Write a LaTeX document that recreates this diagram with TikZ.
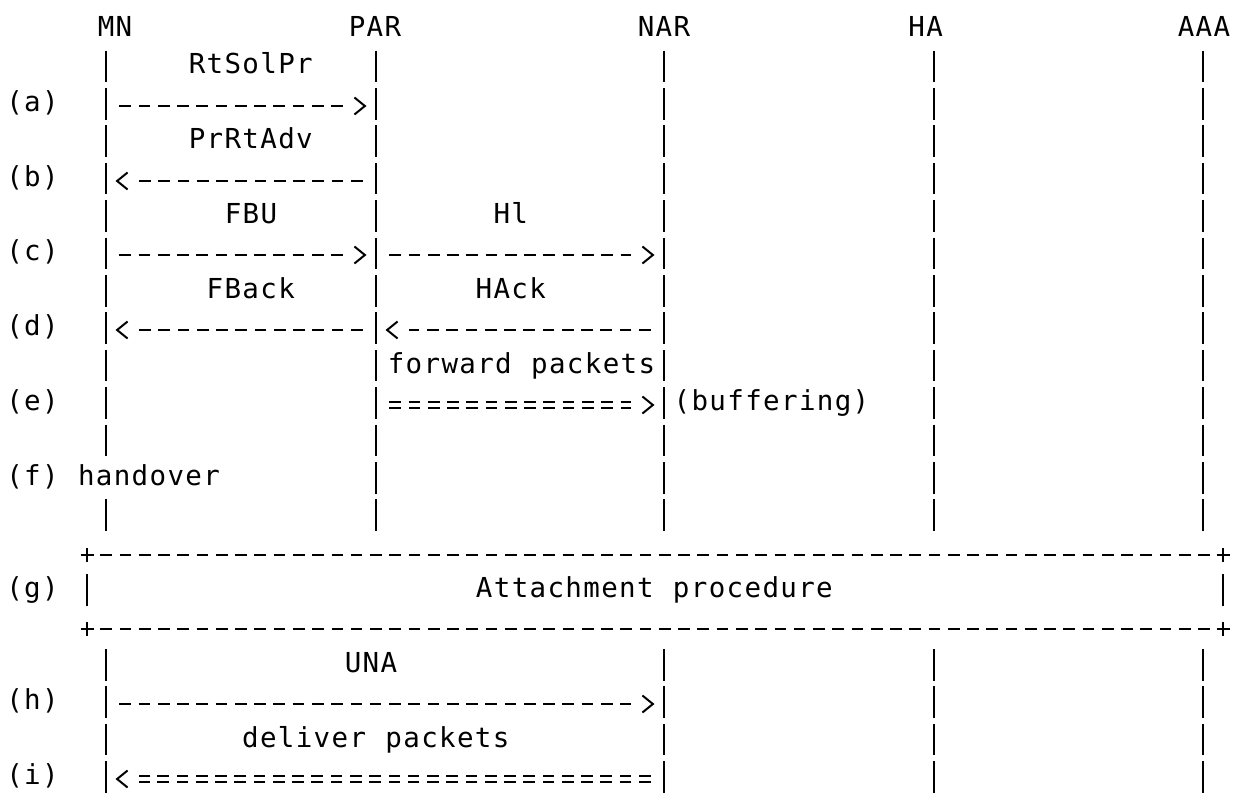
\documentclass[tikz,border=0pt]{standalone}
\usepackage{fontspec}
\usetikzlibrary{arrows.meta}
\newfontfamily\labfont[LetterSpace=4.9,WordSpace=1.081]{DejaVu Sans Mono}
\begin{document}
\begin{tikzpicture}[x=1pt,y=-1pt,
  txt/.style={font=\fontsize{27.5}{30}\selectfont\labfont, inner sep=0pt, anchor=base},
  life/.style={line width=2pt, dash pattern=on 31.5pt off 5.9pt},
  pipe/.style={line width=2pt},
  msg/.style={line width=2pt, dash pattern=on 11.7pt off 7.56pt, shorten <=13.4pt, shorten >=32.7pt},
  dbl/.style={line width=2pt, double, double distance=4pt, dash pattern=on 11.7pt off 7.56pt, shorten <=13.4pt, shorten >=32.7pt},
  chev/.style={line width=2pt, dash pattern=on 0pt off 2000pt, shorten >=9.5pt, -{Straight Barb[length=10.5pt,width=17pt]}},
  boxline/.style={line width=2pt, dash pattern=on 11.7pt off 7.56pt, shorten <=13.4pt, shorten >=13.4pt},
  plus/.style={line width=2pt},
]
\fill[white] (0,0) rectangle (1234,797);
\useasboundingbox (0,0) rectangle (1234,797);

% participants
\node[txt] (hMN)  at (115,37)  {MN};
\node[txt] (hPAR) at (375,37)  {PAR};
\node[txt] (hNAR) at (664,37)  {NAR};
\node[txt] (hHA)  at (925.7,37) {HA};
\node[txt] (hAAA) at (1204,37) {AAA};

% lifeline coordinates
\foreach \n/\x in {MN/106,PAR/376,NAR/664,HA/934,AAA/1203}{
  \coordinate (\n-a) at (\x,50.65);
  \coordinate (\n-b) at (\x,530.95);
  \coordinate (\n-c) at (\x,649.05);
  \coordinate (\n-d) at (\x,792.75);
}
\coordinate (MN-e) at (106,456.15);
\coordinate (MN-f) at (106,499.45);

% lifelines
\draw[life] (MN-a) -- (MN-e);
\draw[life] (MN-f) -- (MN-b);
\foreach \n in {PAR,NAR,HA,AAA}{ \draw[life] (\n-a) -- (\n-b); }
\foreach \n in {MN,NAR,HA,AAA}{ \draw[life] (\n-c) -- (\n-d); }

% message rows
\coordinate (r3) at (0,106);
\coordinate (r5) at (0,181);
\coordinate (r7) at (0,255);
\coordinate (r9) at (0,330);
\coordinate (r11) at (0,405);
\coordinate (r19) at (0,704);
\coordinate (r21) at (0,779);

% row labels
\node[txt] (la) at (32.5,111.3) {(a)};
\node[txt] (lb) at (32.5,186.1) {(b)};
\node[txt] (lc) at (32.5,260.9) {(c)};
\node[txt] (ld) at (32.5,335.7) {(d)};
\node[txt] (le) at (32.5,410.5) {(e)};
\node[txt] (lf) at (32.5,485.3) {(f)};
\node[txt] (lg) at (32.5,597.5) {(g)};
\node[txt] (lh) at (32.5,709.7) {(h)};
\node[txt] (li) at (32.5,784.5) {(i)};

% message labels
\node[txt] (tRtSolPr) at (250.8,73.9)  {RtSolPr};
\node[txt] (tPrRtAdv) at (250.8,148.7) {PrRtAdv};
\node[txt] (tFBU)     at (251,223.5)   {FBU};
\node[txt] (tHI)      at (510.8,223.5) {Hl};
\node[txt] (tFBack)   at (250.8,298.3) {FBack};
\node[txt] (tHAck)    at (510.8,298.3) {HAck};
\node[txt] (tfwd)     at (521.5,373.1) {forward packets};
\node[txt] (tbuf)     at (771.5,410.5) {(buffering)};
\node[txt] (thand)    at (149,485.3)   {handover};
\node[txt] (tUNA)     at (371,672.3)   {UNA};
\node[txt] (tdel)     at (375.8,747.1) {deliver packets};

% messages: dashed shaft plus chevron head
\foreach \s/\t/\r in {MN/PAR/r3, PAR/MN/r5, MN/PAR/r7, PAR/NAR/r7, PAR/MN/r9, NAR/PAR/r9, MN/NAR/r19}{
  \draw[msg]  (\s-a |- \r) -- (\t-a |- \r);
  \draw[chev] (\s-a |- \r) -- (\t-a |- \r);
}
\foreach \s/\t/\r in {PAR/NAR/r11, NAR/MN/r21}{
  \draw[dbl]  (\s-a |- \r) -- (\t-a |- \r);
  \draw[chev] (\s-a |- \r) -- (\t-a |- \r);
}

% attachment box
\node[txt] (att) at (654.4,597.5) {Attachment procedure};
\coordinate (bx1) at (87,555);
\coordinate (bx2) at (1223,555);
\coordinate (bx3) at (1223,629);
\coordinate (bx4) at (87,629);
\draw[boxline] (bx1) -- (bx2);
\draw[boxline] (bx4) -- (bx3);
\foreach \c in {bx1,bx2,bx3,bx4}{
  \draw[plus] ([xshift=-6.5pt]\c) -- ([xshift=6.5pt]\c);
  \draw[plus] ([yshift=-7pt]\c) -- ([yshift=7pt]\c);
}
\draw[pipe] (bx1 |- att.base) ++(0,-23.25) -- ++(0,31.5);
\draw[pipe] (bx2 |- att.base) ++(0,-23.25) -- ++(0,31.5);
\end{tikzpicture}
\end{document}
